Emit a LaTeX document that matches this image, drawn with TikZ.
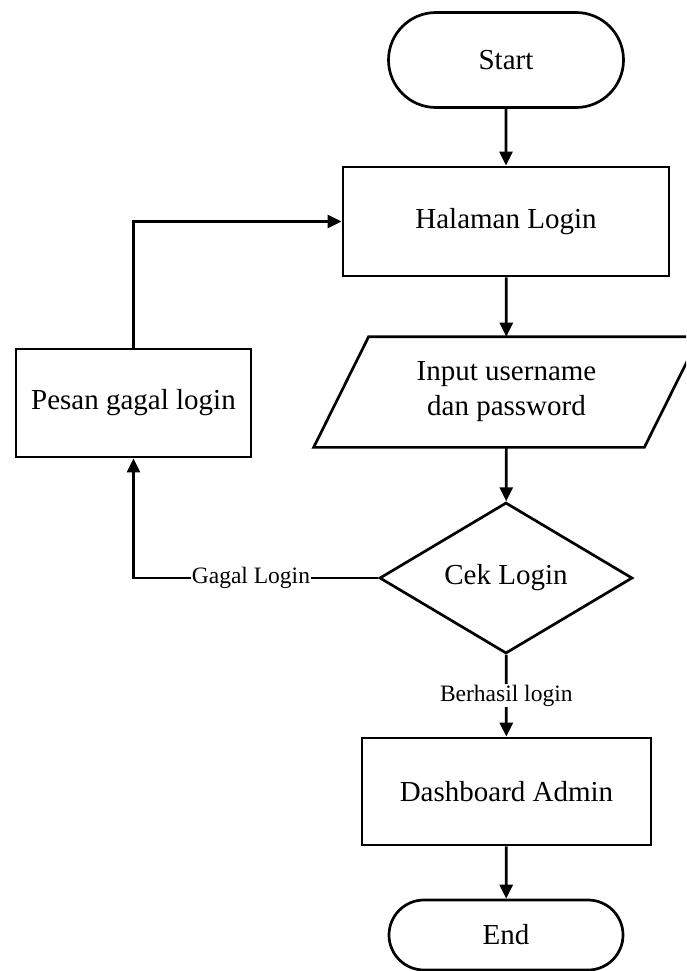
\documentclass[tikz,border=0pt]{standalone}
\usepackage{fontspec}
\setmainfont{Liberation Serif}
\usetikzlibrary{arrows.meta,shapes.geometric,shapes.misc}

\tikzset{
  base/.style={draw=black, line width=2.7pt, inner sep=2pt,
    font=\fontsize{29}{35}\selectfont, align=center},
  terminal/.style={base, rounded rectangle},
  process/.style={base, rectangle},
  decision/.style={base, diamond, inner sep=0pt},
  iotext/.style={base, draw=none, rectangle},
  flow/.style={line width=2.7pt, -{Triangle[length=14pt,width=13pt]}},
  lbl/.style={fill=white, inner sep=1pt, font=\fontsize{23.5}{26}\selectfont}
}

\begin{document}
\begin{tikzpicture}[x=1pt, y=-1pt]
  \useasboundingbox (0,0) rectangle (686,971);
  \clip (0,0) rectangle (686,971);

  % main column
  \node[terminal, minimum width=239pt, minimum height=95pt] (start) at (506,60) {Start};
  \node[process, minimum width=326pt, minimum height=109pt] (login) at (506,221.5) {Halaman Login};
  \node[iotext, minimum width=328pt, minimum height=108pt] (input) at (506.5,392) {Input username\\dan password};
  \draw[line width=2.7pt, line join=miter]
    ([xshift=-27.5pt]input.south west) -- ([xshift=-27.5pt]input.south east)
    -- ([xshift=27.5pt]input.north east) -- ([xshift=27.5pt]input.north west) -- cycle;
  \node[decision, minimum width=253pt, minimum height=151pt] (cek) at (506,578) {Cek Login};
  \node[process, minimum width=289pt, minimum height=107pt] (dash) at (506.5,791.5) {Dashboard Admin};
  \node[terminal, minimum width=238pt, minimum height=70pt] (end) at (506,935) {End};

  % failure branch
  \node[process, minimum width=235pt, minimum height=108pt] (pesan) at (133.5,403) {Pesan gagal login};

  % connectors
  \draw[flow] (start) -- (login);
  \draw[flow] (login) -- (input);
  \draw[flow] (input) -- (cek);
  \draw[flow] (cek) -- node[lbl] {Berhasil login} (dash);
  \draw[flow] (dash) -- (end);
  \draw[flow] (cek.west) -| node[lbl, pos=0.26] {Gagal Login} (pesan.south);
  \draw[flow] (pesan.north) |- (login.west);
\end{tikzpicture}
\end{document}
